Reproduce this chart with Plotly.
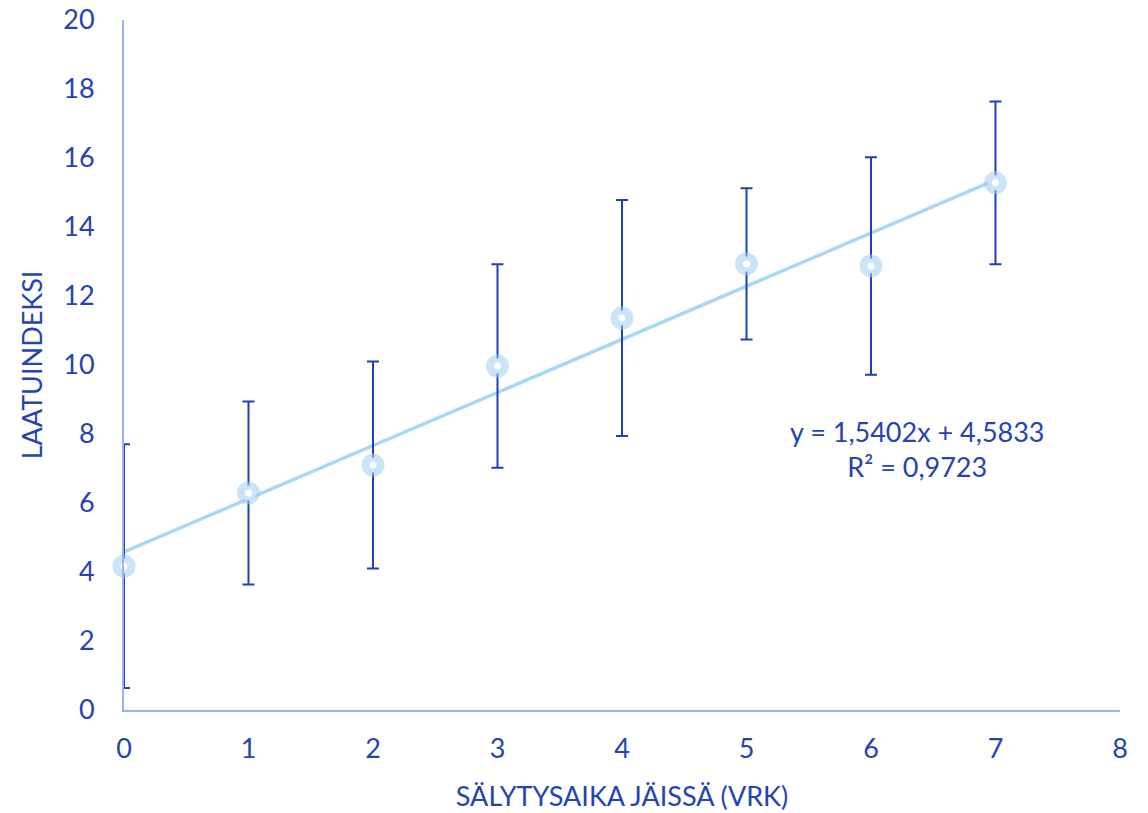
import plotly.graph_objects as go

days = [0, 1, 2, 3, 4, 5, 6, 7]
quality = [4.17, 6.29, 7.10, 9.97, 11.36, 12.93, 12.87, 15.28]
quality_err = [3.53, 2.65, 3.00, 2.95, 3.42, 2.19, 3.15, 2.36]
slope = 1.5402
intercept = 4.5833
r2_text = "R² = 0,9723"
eq_text = "y = 1,5402x + 4,5833"
x_title = "SÄLYTYSAIKA JÄISSÄ (VRK)"
y_title = "LAATUINDEKSI"

TEXT = "#2443B5"
FONT = "Lato"

trend_x = [min(days), max(days)]
trend_y = [slope * v + intercept for v in trend_x]

fig = go.Figure()
fig.add_trace(go.Scatter(
    x=trend_x, y=trend_y, mode="lines",
    line=dict(color="#A9D8F5", width=3.5),
    hoverinfo="skip", showlegend=False,
))
fig.add_trace(go.Scatter(
    x=days, y=quality, mode="markers", cliponaxis=False,
    marker=dict(symbol="circle", size=15, color="white",
                line=dict(color="rgba(160,205,240,0.55)", width=8)),
    error_y=dict(type="data", array=quality_err, visible=True,
                 color="#1E3FBE", thickness=2, width=6),
    showlegend=False,
))

fig.add_annotation(
    x=6.37, y=7.57, xref="x", yref="y",
    text=eq_text + "<br>" + r2_text, showarrow=False,
    font=dict(family=FONT, size=27, color=TEXT), align="center",
)

fig.update_layout(
    width=1148, height=813,
    margin=dict(l=124, r=28, t=20, b=103),
    paper_bgcolor="white", plot_bgcolor="white",
    font=dict(family=FONT, size=27, color=TEXT),
    xaxis=dict(
        range=[0, 8], dtick=1, tick0=0, showgrid=False, zeroline=False,
        showline=True, linecolor="#9AB2F0", linewidth=2, ticks="",
        automargin=False, ticklabelstandoff=14, ticklabeloverflow="allow",
        tickfont=dict(family=FONT, size=27, color=TEXT),
        title=dict(text=x_title, standoff=24,
                   font=dict(family=FONT, size=27, color=TEXT)),
    ),
    yaxis=dict(
        range=[0, 20], dtick=2, tick0=0, showgrid=False, zeroline=False,
        showline=True, linecolor="#9AB2F0", linewidth=2, ticks="",
        automargin=False, ticklabelstandoff=22, ticklabeloverflow="allow",
        tickfont=dict(family=FONT, size=27, color=TEXT),
        title=dict(text=y_title, standoff=13,
                   font=dict(family=FONT, size=27, color=TEXT)),
    ),
)

fig.write_html(
    "out.html",
    config={"displayModeBar": False},
    post_script="document.body.style.margin='0';document.body.style.overflow='hidden';",
)
